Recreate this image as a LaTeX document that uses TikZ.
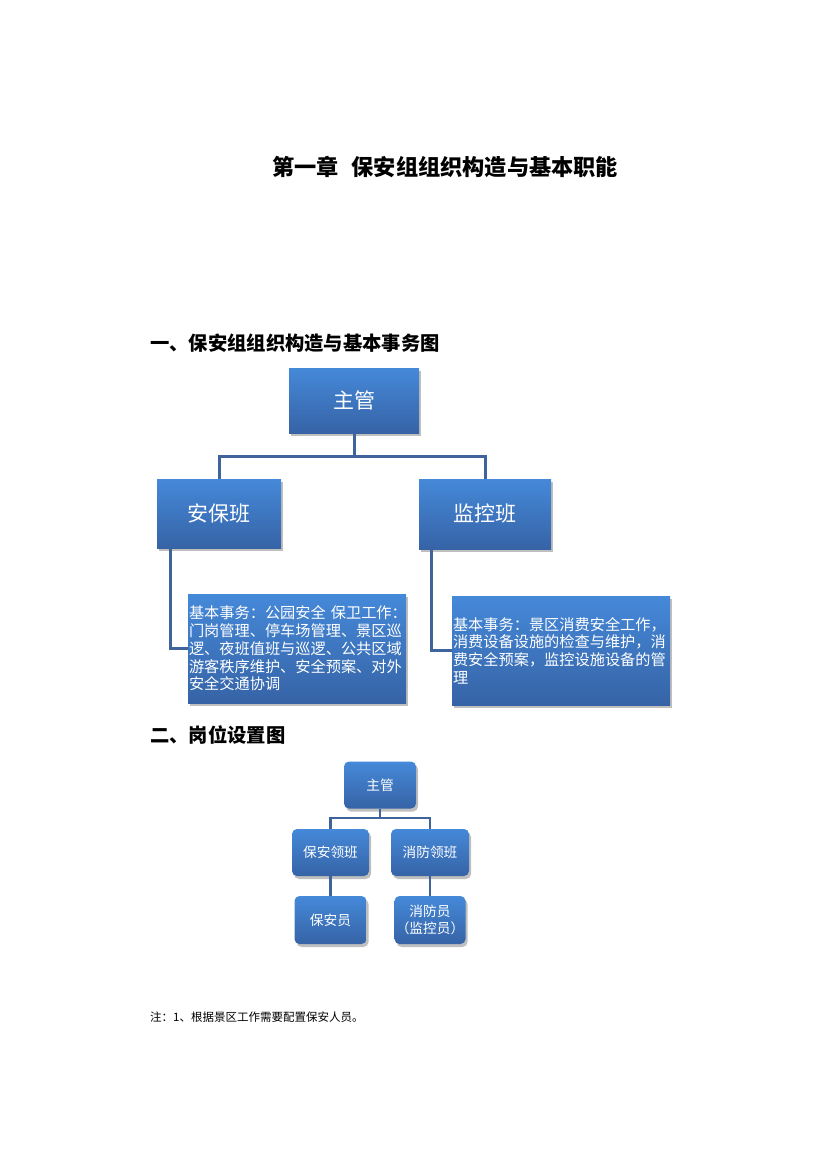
\documentclass[tikz,border=0pt]{standalone}
\usepackage{fontspec}
\setmainfont{Noto Sans CJK SC}
\usetikzlibrary{shadows}
\definecolor{boxtop}{RGB}{69,137,217}
\definecolor{boxbot}{RGB}{54,99,166}
\definecolor{linec}{RGB}{62,100,155}
\tikzset{
  bluebox/.style={draw=none, top color=boxtop, bottom color=boxbot, text=white,
    inner sep=0pt, align=center,
    drop shadow={shadow xshift=2pt, shadow yshift=-3pt, opacity=0.25, fill=black}},
  bigbox/.style={bluebox, font=\fontsize{21}{24}\selectfont},
  descbox/.style={bluebox, minimum width=218pt, minimum height=109pt, text width=216pt,
    inner xsep=1pt, align=left, font=\fontsize{15.2}{17.7}\selectfont},
  smallbox/.style={bluebox, rounded corners=5pt, minimum height=47pt,
    font=\fontsize{13.7}{17}\selectfont},
  conn/.style={draw=linec, line width=3pt},
  conn2/.style={draw=linec, line width=2.6pt},
  heading/.style={anchor=west, inner sep=0pt, font=\fontsize{19.3}{22}\selectfont\bfseries},
}
\begin{document}
\begin{tikzpicture}[x=1pt,y=-1pt]
\useasboundingbox (0,0) rectangle (826,1169);
\fill[white] (0,0) rectangle (826,1169);

% title and headings
\node[anchor=west, inner sep=0pt, font=\fontsize{22.2}{26}\selectfont\bfseries] (title) at (272,167) {第一章\hspace{13pt}保安组组织构造与基本职能};
\node[heading] (h1) at (150,343) {一、保安组组织构造与基本事务图};
\node[heading] (h2) at (150,735) {二、岗位设置图};
\node[anchor=west, inner sep=0pt, font=\fontsize{11.5}{14}\selectfont] (note) at (150,1017) {注：1、根据景区工作需要配置保安人员。};

% section 1
\node[bigbox, minimum width=130pt, minimum height=65pt] (zg) at (354,400.5) {主管};
\node[bigbox, minimum width=124pt, minimum height=69pt] (abb) at (219,513.5) {安保班};
\node[bigbox, minimum width=132pt, minimum height=70pt] (jkb) at (485,514) {监控班};
\node[descbox] (d1) at (297,648.5) {基本事务：公园安全~保卫工作：\\门岗管理、停车场管理、景区巡\\逻、夜班值班与巡逻、公共区域\\游客秩序维护、安全预案、对外\\安全交通协调};
\node[descbox] (d2) at (561,650.5) {基本事务：景区消费安全工作，\\消费设备设施的检查与维护，消\\费安全预案，监控设施设备的管\\理};

\coordinate (j1) at (354,456);
\draw[conn] (zg.south) -- (j1);
\draw[conn] (abb.north) |- (j1) -| (jkb.north);
\draw[conn] ([xshift=14pt]abb.south west) |- (d1.west);
\draw[conn] ([xshift=13pt]jkb.south west) |- (d2.west);

% section 2
\node[smallbox, minimum width=72pt] (zg2) at (380,785) {主管};
\node[smallbox, minimum width=77pt] (bl) at (330.5,852.5) {保安领班};
\node[smallbox, minimum width=78pt] (xl) at (430,852.5) {消防领班};
\node[smallbox, minimum width=72pt, minimum height=48pt] (by) at (330.5,920) {保安员};
\node[smallbox, minimum width=71pt, minimum height=48pt] (xy) at (430,920) {消防员\\（监控员）};

\coordinate (j2) at (380,818);
\draw[conn2] (zg2.south) -- (j2);
\draw[conn2] (bl.north) |- (j2) -| (xl.north);
\draw[conn2] (bl.south) -- (by.north);
\draw[conn2] (xl.south) -- (xy.north);
\end{tikzpicture}
\end{document}
